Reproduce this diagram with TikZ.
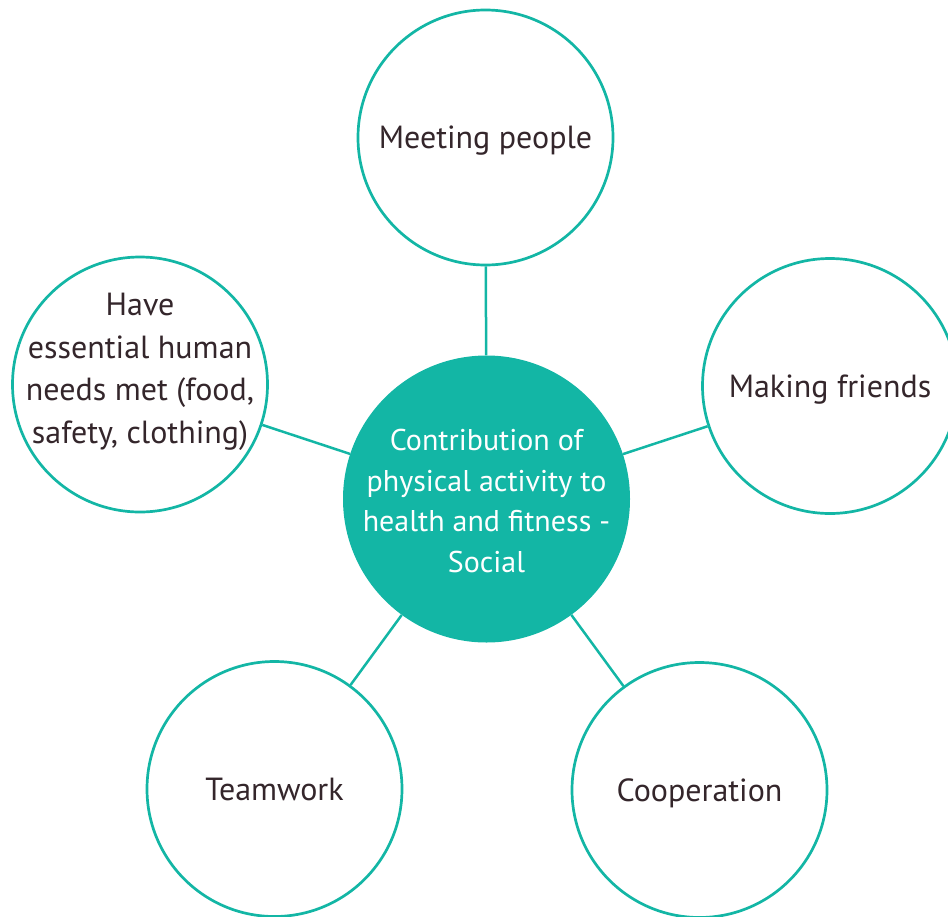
\documentclass[tikz,border=0pt]{standalone}
\usepackage{fontspec}
\setmainfont{PT Sans}
\definecolor{teal}{RGB}{19,182,165}
\definecolor{ink}{RGB}{52,38,43}
\begin{document}
\begin{tikzpicture}[x=1pt,y=-1pt,
  bubble/.style={circle,draw=teal,line width=2.7pt,fill=white,minimum size=255pt,inner sep=0pt,
    text=ink,text height=22.4pt,text depth=0pt,font=\fontsize{32}{42}\selectfont},
  hub/.style={circle,fill=teal,minimum size=287pt,inner sep=0pt},
  hubtext/.style={text=white,align=center,font=\fontsize{30}{40.5}\selectfont},
  caption/.style={text=ink,align=center,font=\fontsize{32}{42.5}\selectfont},
  link/.style={draw=teal,line width=2.5pt}]
\useasboundingbox (0,0) rectangle (948,916);
\clip (0,0) rectangle (948,916);
% hub and the five themes around it
\node[hub] (hub) at (486.5,499) {};
\node[hubtext] (hubtxt) at (486.5,501)
  {Contribution of\\physical activity to\\health and fitness -\\Social};
\node[bubble] (meet) at (485.5,137.5) {Meeting people};
\node[bubble] (friends) at (830,386) {Making friends};
\node[bubble] (needs) at (140,384.5) {};
\node[bubble] (team) at (274.5,789) {Teamwork};
\node[bubble] (coop) at (699.5,790) {Cooperation};
\node[caption] (needstext) at (140,372)
  {Have\\essential human\\needs met (food,\\safety, clothing)};
% spokes from the hub
\foreach \n in {meet,friends,needs,team,coop}
  \draw[link] (hub) -- (\n);
\end{tikzpicture}
\end{document}
